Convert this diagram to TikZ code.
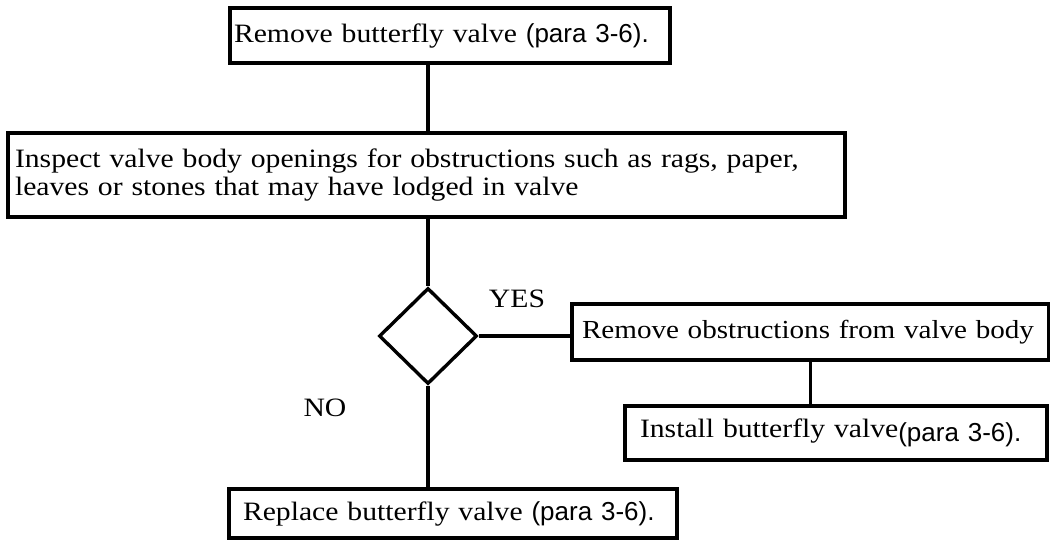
\documentclass[tikz,border=0pt]{standalone}
\usepackage{fontspec}
\setmainfont{Liberation Serif}[FakeStretch=1.12]
\newfontfamily\parafont{Liberation Sans}
\usetikzlibrary{shapes.geometric}
\newcommand\paratxt[1]{{\parafont\fontsize{26}{28}\selectfont #1}}
\begin{document}
\begin{tikzpicture}[x=1pt,y=-1pt,
  box/.style={draw,line width=3.2pt,rectangle,inner ysep=0pt,align=left,anchor=center,
    font=\fontsize{26.5}{28}\selectfont},
  conn/.style={line width=3.2pt},
  lbl/.style={font=\fontsize{26.5}{28}\selectfont,inner sep=0pt}]
\fill[white] (0,0) rectangle (1050,541);
\useasboundingbox (0,0) rectangle (1050,541);
\node[box, minimum height=55, inner xsep=4, text width=432] (b1) at (450,35.5)
  {Remove butterfly valve \paratxt{(para 3-6).}};
\node[box, minimum height=84, inner xsep=7, text width=823] (b2) at (426.5,175)
  {Inspect valve body openings for obstructions such as rags, paper,\\ leaves or stones that may have lodged in valve};
\node[diamond, draw, line width=3.4pt, minimum width=98, minimum height=96, inner sep=0pt] (d) at (428,336) {};
\node[box, minimum height=56, inner xsep=10, text width=457, font=\fontsize{26}{28}\selectfont] (b3) at (810.5,332)
  {\mbox{Remove obstructions from valve body}};
\node[box, minimum height=54, inner xsep=15, text width=392] (b4) at (836,433)
  {Install butterfly valve\raisebox{-4pt}{\paratxt{(para 3-6).}}};
\node[box, minimum height=49, inner xsep=14, text width=420] (b5) at (453,513.5)
  {Replace butterfly valve \paratxt{(para 3-6).}};
\node[lbl] (yes) at (517,299) {YES};
\node[lbl] (no) at (325,408) {NO};
\draw[conn] (b1.south -| d.north) -- (b2.north -| d.north);
\draw[conn] (b2.south -| d.north) -- (d.north);
\draw[conn] (d.east) -- (d.east -| b3.west);
\draw[conn] (b3.south) -- (b3.south |- b4.north);
\draw[conn] (d.south) -- (d.south |- b5.north);
\end{tikzpicture}
\end{document}
